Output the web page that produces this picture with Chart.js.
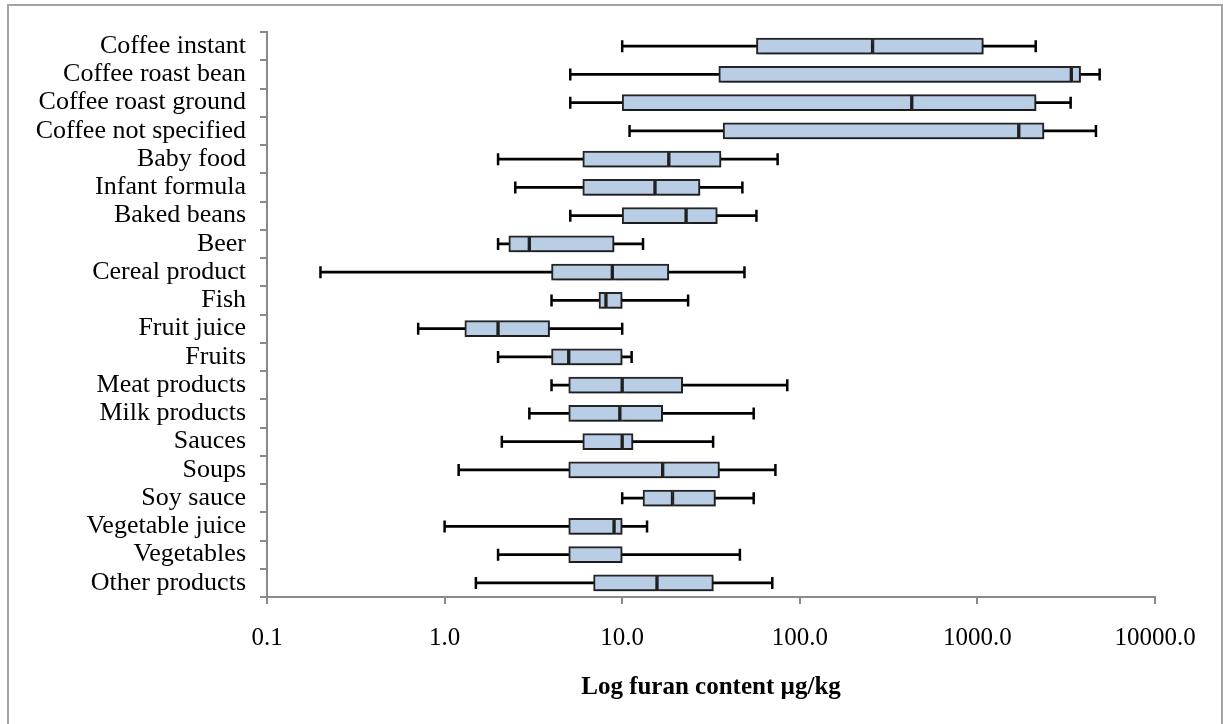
<!DOCTYPE html>
<html>
<head>
<meta charset="utf-8">
<script src="https://cdn.jsdelivr.net/npm/chart.js@4.4.1/dist/chart.umd.min.js"></script>
<style>
  html, body { margin: 0; padding: 0; background: #fff; }
  #wrap { position: absolute; left: 0; top: 0; width: 1223px; height: 724px; }
  #frame { position: absolute; left: 7px; top: 4px; width: 1212px; height: 740px; border: 2px solid #a3a3a3; pointer-events: none; }
</style>
</head>
<body>
<div id="wrap"><canvas id="myChart" width="1223" height="724"></canvas></div>
<div id="frame"></div>
<script>
const categories = [
  "Coffee instant", "Coffee roast bean", "Coffee roast ground", "Coffee not specified",
  "Baby food", "Infant formula", "Baked beans", "Beer", "Cereal product", "Fish",
  "Fruit juice", "Fruits", "Meat products", "Milk products", "Sauces", "Soups",
  "Soy sauce", "Vegetable juice", "Vegetables", "Other products"
];
const whiskerMin = [10, 5.1, 5.1, 11, 2.0, 2.5, 5.1, 2.0, 0.2, 4.0, 0.71, 2.0, 4.0, 3.0, 2.1, 1.2, 10, 1.0, 2.0, 1.5];
const q1 =         [57, 35, 10, 37, 6.0, 6.0, 10, 2.3, 4.0, 7.4, 1.3, 4.0, 5.0, 5.0, 6.0, 5.0, 13.1, 5.0, 5.0, 6.9];
const median =     [257, 3380, 427, 1710, 18.3, 15.3, 22.9, 3.0, 8.8, 8.1, 2.0, 5.0, 10, 9.7, 10, 16.9, 19.2, 9.0, 10, 15.7];
const q3 =         [1080, 3810, 2140, 2370, 36, 27.4, 34.3, 9.0, 18.3, 10, 3.9, 10, 21.9, 16.9, 11.5, 35.3, 33.5, 10, 10, 32.6];
const whiskerMax = [2130, 4880, 3350, 4650, 75, 47.5, 57, 13.1, 48.8, 23.5, 10, 11.3, 85, 55, 32.5, 72.9, 55, 13.8, 46, 70];

const xTickValues = [0.1, 1, 10, 100, 1000, 10000];
const xTickLabels = ["0.1", "1.0", "10.0", "100.0", "1000.0", "10000.0"];

const serif = "'Liberation Serif', 'Times New Roman', serif";
const boxFill = "#b9cde5";
const boxLine = "#262626";
const axisGray = "#8a8a8a";

// soft drop shadow under the boxes, like the office chart
const boxShadow = {
  id: "boxShadow",
  beforeDatasetDraw(chart, args) {
    if (args.meta.type === "bar" && args.meta._dataset.isBox) {
      const c = chart.ctx;
      c.save();
      c.shadowColor = "rgba(0,0,0,0.35)";
      c.shadowBlur = 5;
      c.shadowOffsetX = 2;
      c.shadowOffsetY = 3;
    }
  },
  afterDatasetDraw(chart, args) {
    if (args.meta.type === "bar" && args.meta._dataset.isBox) {
      chart.ctx.restore();
    }
  }
};

const capPoints = [];
categories.forEach((cat, i) => {
  capPoints.push({ x: whiskerMin[i], y: cat });
  capPoints.push({ x: whiskerMax[i], y: cat });
});

const ctx = document.getElementById("myChart").getContext("2d");
const myChart = new Chart(ctx, {
  type: "bar",
  data: {
    labels: categories,
    datasets: [
      {
        label: "lower box",
        isBox: true,
        data: categories.map((c, i) => [q1[i], median[i]]),
        backgroundColor: boxFill,
        borderColor: boxLine,
        borderWidth: 2,
        borderSkipped: false,
        barThickness: 16,
        grouped: false,
        order: 1
      },
      {
        label: "upper box",
        isBox: true,
        data: categories.map((c, i) => [median[i], q3[i]]),
        backgroundColor: boxFill,
        borderColor: boxLine,
        borderWidth: 2,
        borderSkipped: false,
        barThickness: 16,
        grouped: false,
        order: 1
      },
      {
        label: "whisker",
        data: categories.map((c, i) => [whiskerMin[i], whiskerMax[i]]),
        backgroundColor: "#000",
        borderWidth: 0,
        barThickness: 2,
        grouped: false,
        order: 3
      },
      {
        type: "scatter",
        label: "caps",
        data: capPoints,
        pointStyle: "line",
        rotation: 90,
        radius: 6,
        borderColor: "#000",
        borderWidth: 2.5,
        order: 2
      }
    ]
  },
  options: {
    indexAxis: "y",
    responsive: false,
    animation: false,
    layout: { padding: { top: 32, right: 68, bottom: 0, left: 0 } },
    scales: {
      y: {
        type: "category",
        labels: categories,
        afterFit: (scale) => { scale.width = 267; },
        grid: {
          offset: true,
          drawOnChartArea: false,
          drawTicks: true,
          tickLength: 7,
          color: axisGray,
          lineWidth: 2
        },
        border: { color: axisGray, width: 2 },
        ticks: {
          color: "#000",
          padding: 14,
          autoSkip: false,
          font: { family: serif, size: 26 }
        }
      },
      x: {
        type: "logarithmic",
        min: 0.1,
        max: 10000,
        afterFit: (scale) => { scale.height = 127; },
        afterBuildTicks: (scale) => {
          scale.ticks = xTickValues.map((v) => ({ value: v }));
        },
        grid: {
          drawOnChartArea: false,
          drawTicks: true,
          tickLength: 7,
          color: axisGray,
          lineWidth: 2
        },
        border: { color: axisGray, width: 2 },
        ticks: {
          color: "#000",
          padding: 19,
          autoSkip: false,
          maxRotation: 0,
          font: { family: serif, size: 25 },
          callback: (value, index) => xTickLabels[index]
        },
        title: {
          display: true,
          text: "Log furan content µg/kg",
          color: "#000",
          font: { family: serif, size: 25, weight: "bold" },
          padding: { top: 4, bottom: 21 }
        }
      }
    },
    plugins: {
      legend: { display: false },
      tooltip: { enabled: false }
    }
  },
  plugins: [boxShadow]
});
</script>
</body>
</html>
